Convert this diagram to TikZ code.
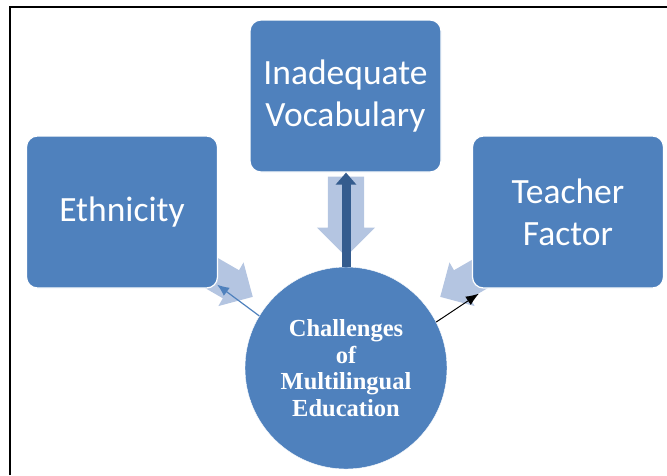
\documentclass[tikz,border=0pt]{standalone}
\usepackage{fontspec}
\usetikzlibrary{shapes,arrows.meta}
\newfontfamily\boxfont{Carlito}
\newfontfamily\hubfont{Liberation Serif}
\definecolor{boxblue}{RGB}{79,129,189}
\definecolor{pale}{RGB}{180,197,225}
\definecolor{deep}{RGB}{52,92,142}
\tikzset{
  >=Stealth,
  box/.style={draw=white,line width=1.2pt,rounded corners=11pt,fill=boxblue,text=white,align=center,minimum width=191pt,minimum height=152pt,font=\boxfont\fontsize{35.5}{42}\selectfont},
  hub/.style={draw=white,circle,fill=boxblue,text=white,align=center,minimum size=202pt,inner sep=0pt,font=\hubfont\bfseries\fontsize{24.5}{26.5}\selectfont},
  bigarr/.style={single arrow,fill=pale,anchor=tip,inner sep=18pt,single arrow head extend=11pt,minimum height=80pt},
  sidearr/.style={single arrow,fill=pale,anchor=tip,inner sep=16pt,single arrow head extend=9pt,minimum height=70pt}
}
\begin{document}
\begin{tikzpicture}[x=1pt,y=-1pt]
\useasboundingbox (0,0) rectangle (667,475);
\draw[line width=1.2pt](10,475)--(10,7)--(667,7);
% pale arrows go under the boxes
\node[bigarr,rotate=-90](carr)at(346,257){};
\node[sidearr,rotate=-30](larr)at(253,297){};
\node[sidearr,rotate=-150](rarr)at(440,297){};
\node[box](eth)at(122,212){Ethnicity};
\node[box](voc)at(345.5,96){Inadequate\\Vocabulary};
\node[box](teach)at(568,212){Teacher\\Factor};
\node[hub](chal)at(346,368){Challenges\\of\\Multilingual\\Education};
\draw[deep,line width=9pt,-{Triangle[width=20pt,length=12pt]}](chal.north)--(chal.north|-voc.south);
\draw[boxblue,line width=1.2pt,-{Latex[length=12pt,width=10pt]}](chal.149)--([shift={(-1,-4)}]eth.south east);
\draw[black,line width=1pt,-{Latex[length=13pt,width=10pt]}](chal.27)--([shift={(7,5)}]teach.south west);
\end{tikzpicture}
\end{document}
